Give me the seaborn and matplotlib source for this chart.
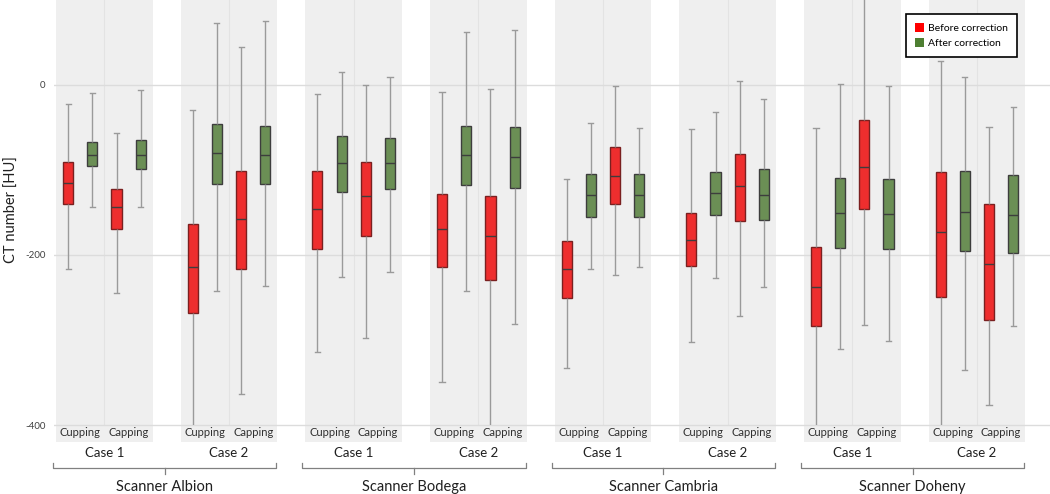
import numpy as np
import pandas as pd
import matplotlib
matplotlib.use("Agg")
import matplotlib.pyplot as plt
from matplotlib.patches import Patch, Rectangle
import seaborn as sns

# 数据: 箱线图五数概括 (scanner -> case -> artifact -> before/after)
scanners = ["Albion", "Bodega", "Cambria", "Doheny"]
cases = ["Case 1", "Case 2"]
artifacts = ["Cupping", "Capping"]
corrections = ["Before correction", "After correction"]

whisker_low = [-216, -143, -245, -143,  -420, -242, -364, -236,
               -314, -226, -298, -220,  -349, -242, -420, -281,
               -333, -217, -223, -214,  -302, -227, -272, -238,
               -420, -310, -282, -301,  -420, -335, -377, -283]
q1 = [-140, -95, -169, -99,  -268, -117, -216, -117,
      -193, -126, -178, -122,  -214, -118, -229, -121,
      -250, -155, -140, -155,  -213, -153, -160, -159,
      -284, -192, -146, -193,  -249, -195, -277, -198]
median = [-115, -82, -143, -82,  -214, -80, -158, -82,
          -146, -92, -131, -92,  -170, -82, -178, -85,
          -216, -130, -107, -130,  -182, -127, -119, -129,
          -238, -151, -97, -152,  -173, -149, -210, -153]
q3 = [-91, -67, -122, -65,  -163, -46, -101, -48,
      -101, -60, -91, -62,  -128, -48, -131, -49,
      -183, -105, -73, -105,  -151, -102, -81, -99,
      -191, -109, -41, -111,  -102, -101, -140, -106]
whisker_high = [-22, -9, -56, -6,  -29, 73, 45, 75,
                -11, 15, 0, 9,  -8, 62, -5, 65,
                -111, -45, -1, -51,  -52, -32, 5, -17,
                -51, 1, 115, -1,  28, 9, -49, -26]

PANEL_STEP = 5.15  # 每个 case 面板占 4 个槽 + 间隔

rows = []
i = 0
for s, scanner in enumerate(scanners):
    for c, case in enumerate(cases):
        for a, art in enumerate(artifacts):
            for k, corr in enumerate(corrections):
                pos = (s * 2 + c) * PANEL_STEP + a * 2 + k + 0.5
                for v in [whisker_low[i], q1[i], median[i], q3[i], whisker_high[i]]:
                    rows.append({"pos": pos, "correction": corr, "value": v})
                i += 1
df = pd.DataFrame(rows)

plt.rcParams["font.family"] = ["Lato", "DejaVu Sans"]
plt.rcParams["axes.unicode_minus"] = False

fig = plt.figure(figsize=(10.5, 4.94), dpi=100)
ax = fig.add_axes([54 / 1050, 52 / 494, 996 / 1050, 442 / 494])

# 灰色面板
for p in range(len(scanners) * len(cases)):
    x0 = p * PANEL_STEP
    ax.axvspan(x0, x0 + 4, color="#efefef", zorder=0, lw=0)
    ax.axvline(x0 + 2, color="#e3e3e3", lw=0.8, zorder=0.1)

box_colors = {"Before correction": "#ee2e2e", "After correction": "#6b8f55"}
sns.boxplot(data=df, x="pos", y="value", hue="correction", palette=box_colors,
            native_scale=True, dodge=False, width=0.42, whis=(0, 100),
            saturation=1, linecolor="#3d3d3d", linewidth=1, legend=False, ax=ax,
            whiskerprops={"color": "#9a9a9a", "linewidth": 1},
            capprops={"color": "#9a9a9a", "linewidth": 1})

for patch in ax.patches:
    fc = patch.get_facecolor()
    if fc[0] > 0.8 and fc[1] < 0.3:
        patch.set_edgecolor("#7a2020")

clip = Rectangle((-5, -400), 60, 600, transform=ax.transData)
for line in ax.lines:
    line.set_clip_path(clip)

ax.set_xlim(-0.083, 41.07)
ax.set_ylim(-420, 100)
ax.set_yticks([0, -200, -400])
ax.set_yticklabels(["0", "-200", "-400"], fontsize=7, color="#404040")
ax.tick_params(axis="y", length=0, pad=6)
ax.set_xticks([])
ax.set_xlabel("")
ax.set_ylabel("CT number [HU]", fontsize=10.5, color="#202020", va="center")
ax.yaxis.set_label_coords(-0.042, 0.527)
ax.yaxis.grid(True, color="#dcdcdc", lw=1)
ax.set_axisbelow(True)
for sp in ax.spines.values():
    sp.set_visible(False)

# 类别标签和括号
for s, scanner in enumerate(scanners):
    for c, case in enumerate(cases):
        x0 = (s * 2 + c) * PANEL_STEP
        for a, art in enumerate(artifacts):
            ax.text(x0 + a * 2 + 1, -409, art, ha="center", va="center",
                    fontsize=8, color="#303030")
        ax.text(x0 + 2, -433, case, ha="center", va="center", fontsize=9.5,
                color="#202020", clip_on=False)
    bx0 = s * 2 * PANEL_STEP - 0.12
    bx1 = s * 2 * PANEL_STEP + PANEL_STEP + 4 - 0.05
    bmid = (bx0 + bx1) / 2
    ax.plot([bx0, bx0, bx1, bx1], [-444.5, -450.6, -450.6, -444.5],
            color="#808080", lw=0.9, clip_on=False)
    ax.plot([bmid, bmid], [-450.6, -457.5], color="#808080", lw=0.9, clip_on=False)
    ax.text(bmid, -473, "Scanner " + scanner, ha="center", va="center",
            fontsize=10.5, color="#202020", clip_on=False)

handles = [Patch(facecolor="#ff0000", edgecolor="none", label=corrections[0]),
           Patch(facecolor="#4e7f32", edgecolor="none", label=corrections[1])]
leg = ax.legend(handles=handles, loc="upper right", bbox_to_anchor=(0.972, 0.98),
                fontsize=7.5, frameon=True, fancybox=False, framealpha=1,
                edgecolor="black", handlelength=0.9, handleheight=0.9,
                handletextpad=0.4, borderpad=0.85, labelspacing=0.5)
leg.get_frame().set_linewidth(1.2)

plt.savefig("out.png", dpi=100)
plt.close()
